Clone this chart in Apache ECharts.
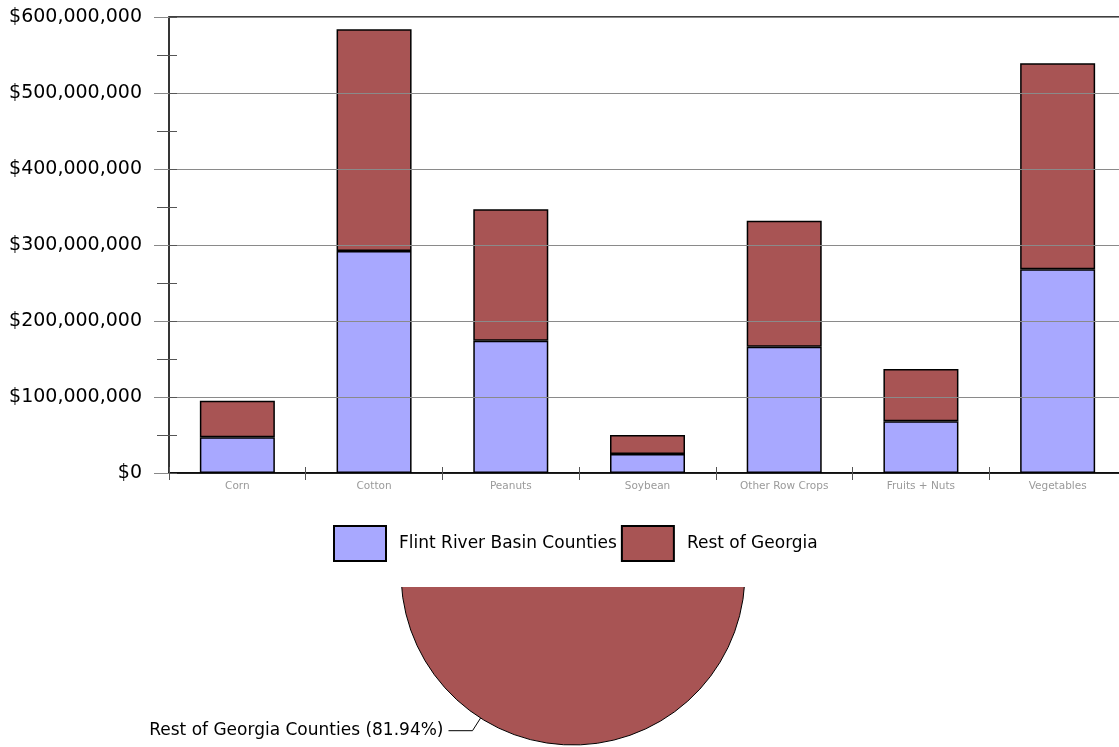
<!DOCTYPE html>
<html>
<head>
<meta charset="utf-8">
<script src="https://cdn.jsdelivr.net/npm/echarts@6/dist/echarts.min.js"></script>
<style>
  html, body { margin: 0; padding: 0; background: #fff; }
  #chart { width: 1119px; height: 747px; }
</style>
</head>
<body>
<div id="chart"></div>
<script>
// Crop production value by category, Flint River Basin vs. rest of the state
const categories = ['Corn', 'Cotton', 'Peanuts', 'Soybean', 'Other Row Crops', 'Fruits + Nuts', 'Vegetables'];
const flintValues = [47000000, 292000000, 174000000, 25000000, 166000000, 68000000, 268000000];
const restValues  = [48000000, 292000000, 173000000, 25000000, 166000000, 69000000, 271000000];
const seriesNames = ['Flint River Basin Counties', 'Rest of Georgia'];
const yTicks = { min: 0, max: 600000000, interval: 100000000 };

// Share of total crop value (pie)
const pieNames = ['Flint River Basin Counties', 'Rest of Georgia Counties'];
const pieShares = [18.06, 81.94];

const BLUE = '#a8a8ff';
const RED = '#a85454';
const FONT = 'DejaVu Sans';

const chart = echarts.init(document.getElementById('chart'), null, { renderer: 'canvas' });

const money = v => '$' + Number(v).toLocaleString('en-US');

chart.setOption({
  backgroundColor: '#ffffff',
  animation: false,
  grid: {
    left: 169, top: 17, width: 957, bottom: 274,
    outerBoundsMode: 'none', containLabel: false,
    show: true, borderColor: '#000', borderWidth: 1.5, backgroundColor: 'transparent', z: 3
  },
  legend: {
    data: seriesNames,
    left: 333, top: 525, padding: 0,
    itemWidth: 52, itemHeight: 35, itemGap: 4,
    icon: 'rect',
    z: 6,
    textStyle: { fontFamily: FONT, fontSize: 17, color: '#000', padding: [0, 0, 0, 8] }
  },
  xAxis: [{
    type: 'category', data: categories, z: 5,
    axisLine: { lineStyle: { color: '#000', width: 1.5 } },
    axisTick: { show: true, alignWithLabel: false, length: 7, lineStyle: { color: '#555' } },
    axisLabel: { fontFamily: FONT, fontSize: 10.5, color: '#9a9a9a', margin: 8 },
    splitLine: { show: false }
  }, {
    // inner half of the category ticks, so they cross the axis
    type: 'category', data: categories, position: 'bottom', z: 5,
    axisLine: { show: false },
    axisTick: { show: true, inside: true, length: 6, lineStyle: { color: '#555' } },
    axisLabel: { show: false },
    splitLine: { show: false }
  }],
  yAxis: [{
    type: 'value', min: yTicks.min, max: yTicks.max, interval: yTicks.interval, z: 5,
    axisLine: { show: true, lineStyle: { color: '#333', width: 1.5 } },
    axisTick: { show: true, length: 15, lineStyle: { color: '#888' } },
    minorTick: { show: true, splitNumber: 2, length: 12, lineStyle: { color: '#555' } },
    axisLabel: { fontFamily: FONT, fontSize: 19, color: '#000', margin: 27, formatter: money },
    splitLine: { show: true, lineStyle: { color: '#8a8a8a', width: 1.2 } }
  }, {
    // inner half of the half-step ticks
    type: 'value', position: 'left', min: yTicks.min, max: yTicks.max, interval: yTicks.interval / 2, z: 5,
    axisLine: { show: false },
    axisTick: { show: true, inside: true, length: 8, lineStyle: { color: '#555' } },
    axisLabel: { show: false },
    splitLine: { show: false }
  }],
  graphic: [{
    type: 'rect', z: 1,
    shape: { x: 380, y: 395, width: 380, height: 192 },
    style: { fill: '#ffffff' }
  }],
  series: [{
    name: seriesNames[0], type: 'bar', stack: 'total', data: flintValues,
    barWidth: 75, z: 4,
    itemStyle: { color: BLUE, borderColor: '#000', borderWidth: 1.5 }
  }, {
    name: seriesNames[1], type: 'bar', stack: 'total', data: restValues,
    barWidth: 75, z: 4,
    itemStyle: { color: RED, borderColor: '#000', borderWidth: 1.5 }
  }, {
    type: 'pie', z: 0,
    center: [573, 573], radius: 172,
    startAngle: 90, clockwise: true,
    percentPrecision: 2,
    itemStyle: { borderColor: '#000', borderWidth: 1 },
    label: {
      show: true, position: 'outside', formatter: '{b} ({d}%)',
      fontFamily: FONT, fontSize: 17, color: '#000'
    },
    labelLine: { show: true, length: 15, length2: 24, lineStyle: { color: '#000', width: 1 } },
    data: [
      { name: pieNames[0], value: pieShares[0], itemStyle: { color: BLUE }, label: { show: false }, labelLine: { show: false } },
      { name: pieNames[1], value: pieShares[1], itemStyle: { color: RED } }
    ]
  }]
});
</script>
</body>
</html>
